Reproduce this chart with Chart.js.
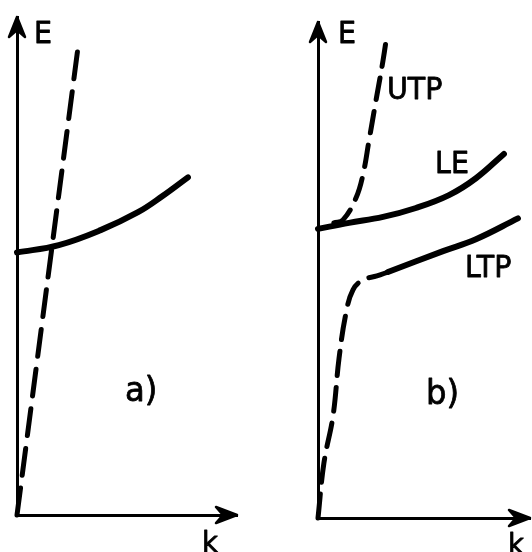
<!DOCTYPE html>
<html>
<head>
<meta charset="utf-8">
<script src="https://cdn.jsdelivr.net/npm/chart.js@4/dist/chart.umd.min.js"></script>
<style>
  html, body { margin: 0; padding: 0; background: #fff; }
  #wrap { display: flex; width: 532px; height: 552px; overflow: hidden; }
  canvas { display: block; }
</style>
</head>
<body>
<div id="wrap">
  <canvas id="ca" width="266" height="552"></canvas>
  <canvas id="cb" width="266" height="552"></canvas>
</div>
<script>
// ---------- Panel a) data (k, E in arbitrary units) ----------
const kA_photon  = [0, 2.77];
const eA_photon  = [0, 9.38];
const kA_exciton = [0, 1.9, 3.8, 5.5, 6.6, 7.77];
const eA_exciton = [5.27, 5.42, 5.72, 6.08, 6.40, 6.78];

// ---------- Panel b) data ----------
const kB_LE  = [0, 1.46, 3.07, 4.62, 6.18, 7.45, 8.77];
const eB_LE  = [5.83, 5.95, 6.07, 6.25, 6.51, 6.85, 7.34];
const kB_UTP = [0.75, 1.18, 1.79, 2.12, 2.41, 2.74, 3.07, 3.25];
const eB_UTP = [5.95, 6.01, 6.45, 6.92, 7.62, 8.43, 9.23, 9.74];
const kB_LTPdash  = [0, 0.28, 0.71, 0.99, 1.32, 1.65, 2.12, 2.78, 3.30];
const eB_LTPdash  = [0, 1.11, 2.06, 3.21, 4.13, 4.60, 4.80, 4.88, 4.96];
const kB_LTPsolid = [3.30, 5.90, 7.45, 9.43];
const eB_LTPsolid = [4.96, 5.38, 5.62, 6.04];

// ---------- Text labels ----------
const labelsA = ['E', 'k', 'a)'];
const labelKA = [0.77, 8.41, 4.91];
const labelEA = [9.48, -0.74, 2.29];
const labelsB = ['E', 'k', 'b)', 'UTP', 'LE', 'LTP'];
const labelKB = [0.94, 8.96, 5.09, 3.25, 5.52, 6.93];
const labelEB = [9.58, -0.73, 2.30, 8.45, 6.96, 4.86];

const axisRange = { kMin: 0, kMax: 10, eMin: 0, eMax: 10 };

const pts = (ks, es) => ks.map((k, i) => ({ x: k, y: es[i] }));

const labelFonts = {
  'E': '30px "DejaVu Sans"', 'k': '29px "DejaVu Sans"',
  'a)': '34px "DejaVu Sans"', 'b)': '34px "DejaVu Sans"',
  'UTP': '30px "DejaVu Sans"', 'LE': '30px "DejaVu Sans"', 'LTP': '30px "DejaVu Sans"'
};

function arrowPlugin(texts, ks, es) {
  return {
    id: 'arrowsAndText',
    afterDraw(chart) {
      const ctx = chart.ctx;
      const xs = chart.scales.x, ys = chart.scales.y;
      const x0 = xs.getPixelForValue(axisRange.kMin);
      const y0 = ys.getPixelForValue(axisRange.eMin);
      const yTop = ys.getPixelForValue(axisRange.eMax);
      const xRight = xs.getPixelForValue(axisRange.kMax);
      ctx.save();
      ctx.fillStyle = '#000';
      ctx.strokeStyle = '#000';
      ctx.lineWidth = 2.5;
      ctx.lineJoin = 'round';
      // up arrow
      ctx.beginPath();
      ctx.moveTo(x0, yTop);
      ctx.lineTo(x0 - 8, yTop + 20);
      ctx.lineTo(x0, yTop + 13);
      ctx.lineTo(x0 + 8, yTop + 20);
      ctx.closePath();
      ctx.fill(); ctx.stroke();
      // right arrow
      ctx.beginPath();
      ctx.moveTo(xRight, y0);
      ctx.lineTo(xRight - 21, y0 - 8);
      ctx.lineTo(xRight - 14, y0);
      ctx.lineTo(xRight - 21, y0 + 8);
      ctx.closePath();
      ctx.fill(); ctx.stroke();
      // text
      ctx.textAlign = 'left';
      ctx.textBaseline = 'alphabetic';
      ctx.lineWidth = 0.8;
      texts.forEach((t, i) => {
        ctx.font = labelFonts[t] || '30px "DejaVu Sans"';
        const px = xs.getPixelForValue(ks[i]);
        const py = ys.getPixelForValue(es[i]);
        ctx.save();
        ctx.translate(px, py);
        ctx.scale(0.95, 1);
        ctx.fillText(t, 0, 0);
        ctx.strokeText(t, 0, 0);
        ctx.restore();
      });
      ctx.restore();
    }
  };
}

function makeScales() {
  const common = {
    type: 'linear',
    display: true,
    grid: { display: false, drawTicks: false },
    ticks: { display: false },
    border: { display: true, color: '#000', width: 3 },
    afterFit(s) { if (s.isHorizontal()) s.height = 0; else s.width = 0; }
  };
  return {
    x: Object.assign({}, common, { min: axisRange.kMin, max: axisRange.kMax }),
    y: Object.assign({}, common, { min: axisRange.eMin, max: axisRange.eMax })
  };
}

function lineDs(data, dashed, dashPattern) {
  return {
    data,
    showLine: true,
    borderColor: '#000',
    backgroundColor: '#000',
    borderWidth: dashed ? 5 : 6,
    borderDash: dashed ? dashPattern : [],
    borderCapStyle: 'round',
    borderJoinStyle: 'round',
    pointRadius: 0,
    pointHoverRadius: 0,
    fill: false,
    tension: 0.4,
    clip: false
  };
}

const baseOptions = (padding) => ({
  responsive: false,
  animation: false,
  devicePixelRatio: 1,
  layout: { padding },
  plugins: { legend: { display: false }, tooltip: { enabled: false }, title: { display: false } },
  events: [],
  scales: makeScales()
});

new Chart(document.getElementById('ca'), {
  type: 'scatter',
  data: {
    datasets: [
      lineDs(pts(kA_photon, eA_photon), true, [27, 13]),
      lineDs(pts(kA_exciton, eA_exciton), false)
    ]
  },
  options: baseOptions({ left: 17, top: 17, right: 29, bottom: 37 }),
  plugins: [arrowPlugin(labelsA, labelKA, labelEA)]
});

new Chart(document.getElementById('cb'), {
  type: 'scatter',
  data: {
    datasets: [
      lineDs(pts(kB_LE, eB_LE), false),
      lineDs(pts(kB_UTP, eB_UTP), true, [22, 12]),
      lineDs(pts(kB_LTPdash, eB_LTPdash), true, [24, 12]),
      lineDs(pts(kB_LTPsolid, eB_LTPsolid), false)
    ]
  },
  options: baseOptions({ left: 52, top: 22, right: 2, bottom: 34 }),
  plugins: [arrowPlugin(labelsB, labelKB, labelEB)]
});
</script>
</body>
</html>
